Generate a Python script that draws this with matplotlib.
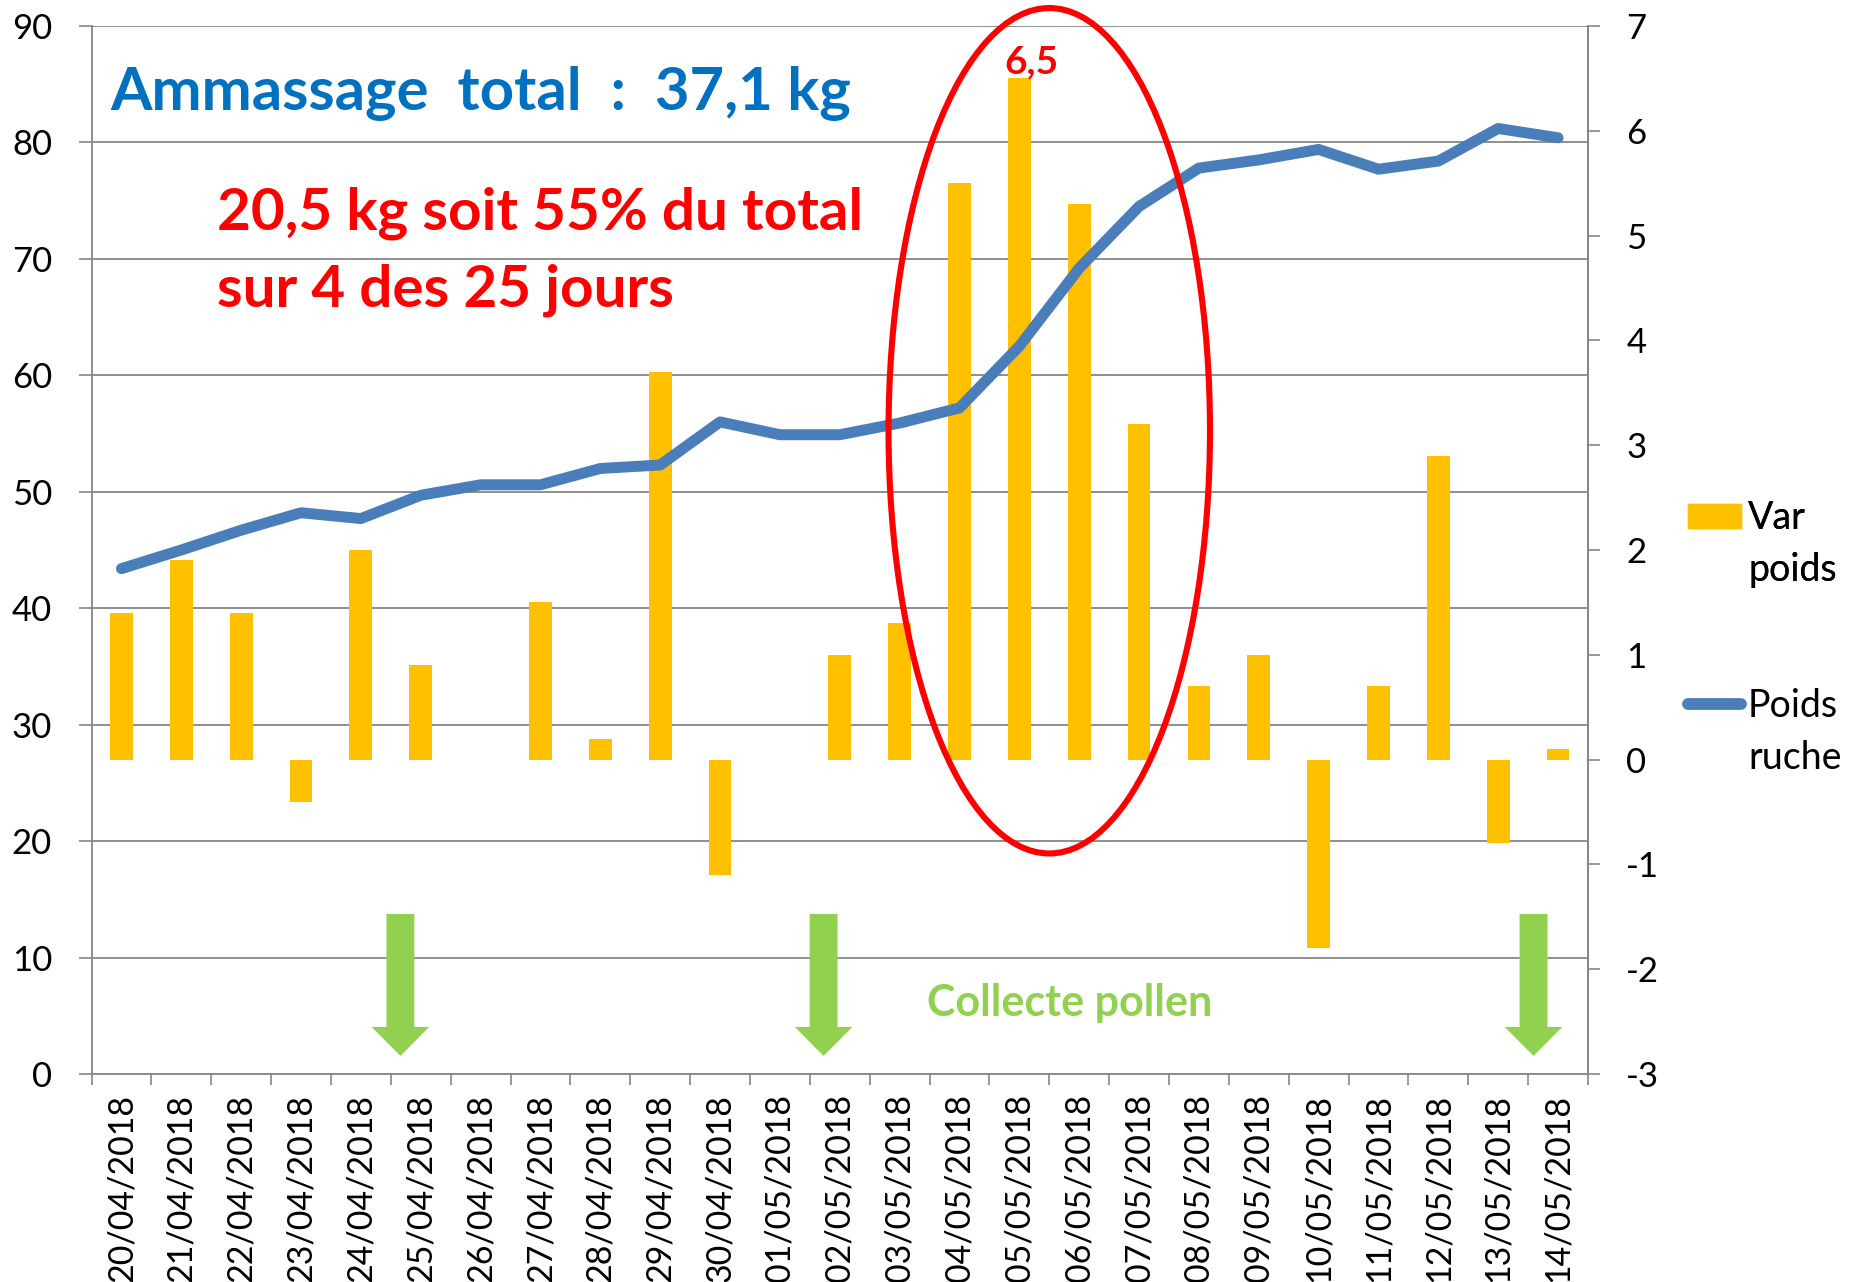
import numpy as np
import matplotlib
matplotlib.use("Agg")
import matplotlib.pyplot as plt
from matplotlib.patches import Ellipse, FancyArrow, Patch
from matplotlib.lines import Line2D

plt.rcParams['font.family'] = ['Lato', 'DejaVu Sans']
plt.rcParams['axes.unicode_minus'] = False

dates = ["20/04/2018", "21/04/2018", "22/04/2018", "23/04/2018", "24/04/2018",
         "25/04/2018", "26/04/2018", "27/04/2018", "28/04/2018", "29/04/2018",
         "30/04/2018", "01/05/2018", "02/05/2018", "03/05/2018", "04/05/2018",
         "05/05/2018", "06/05/2018", "07/05/2018", "08/05/2018", "09/05/2018",
         "10/05/2018", "11/05/2018", "12/05/2018", "13/05/2018", "14/05/2018"]
var_poids = [1.4, 1.9, 1.4, -0.4, 2.0, 0.9, 0.0, 1.5, 0.2, 3.7,
             -1.1, 0.0, 1.0, 1.3, 5.5, 6.5, 5.3, 3.2, 0.7, 1.0,
             -1.8, 0.7, 2.9, -0.8, 0.1]
poids_ruche = [43.4, 45.0, 46.7, 48.2, 47.7, 49.7, 50.6, 50.6, 52.0, 52.3,
               56.0, 54.9, 54.9, 55.9, 57.2, 62.5, 69.2, 74.5, 77.8, 78.5,
               79.4, 77.7, 78.4, 81.2, 80.4]
left_ticks = [0, 10, 20, 30, 40, 50, 60, 70, 80, 90]
right_ticks = [-3, -2, -1, 0, 1, 2, 3, 4, 5, 6, 7]

BAR = '#FFC000'
LINE = '#4A7EBB'
GRID = '#868686'
GREEN = '#92D050'
W, H = 1864, 1282

fig = plt.figure(figsize=(W / 100, H / 100), dpi=100)
ax = fig.add_axes([91.5 / W, 1 - 1074 / H, (1588 - 91.5) / W, (1074 - 26) / H])
x = np.arange(len(dates))

# base axis: left scale + grid + x labels
ax.set_xlim(-0.5, len(dates) - 0.5)
ax.set_ylim(0, 90)
ax.set_yticks(left_ticks)
ax.yaxis.grid(True, color=GRID, lw=1.3)
ax.set_axisbelow(True)
ax.tick_params(axis='y', which='major', length=9.4, width=1.2, color=GRID,
               pad=19, labelsize=25)
ax.set_xticks(np.arange(-0.5, len(dates), 1))
ax.set_xticklabels([])
ax.tick_params(axis='x', which='major', length=8.2, width=1.2, color=GRID)
ax.set_xticks(x, minor=True)
ax.set_xticklabels(dates, minor=True, rotation=90, fontsize=24.5)
ax.tick_params(axis='x', which='minor', length=0, pad=14.4)
for s in ['left', 'bottom', 'right']:
    ax.spines[s].set_color(GRID)
    ax.spines[s].set_linewidth(1.3)
ax.spines['top'].set_visible(False)

# bars on right scale
axb = ax.twinx()
axb.set_ylim(-3, 7)
axb.set_yticks(right_ticks)
axb.bar(x, var_poids, width=0.38, color=BAR, zorder=2)
axb.tick_params(axis='y', length=8.6, width=1.2, color=GRID, pad=19, labelsize=25)
for s in ['left', 'bottom', 'top']:
    axb.spines[s].set_visible(False)
axb.spines['right'].set_color(GRID)
axb.spines['right'].set_linewidth(1.3)

# line on left scale, above bars
axl = ax.twinx()
axl.set_ylim(0, 90)
axl.set_xlim(-0.5, len(dates) - 0.5)
axl.plot(x, poids_ruche, color=LINE, lw=7.9, solid_capstyle='round',
         solid_joinstyle='round')
axl.yaxis.set_visible(False)
for s in axl.spines.values():
    s.set_visible(False)

# red ellipse
axl.add_patch(Ellipse((15.5, 55.24), 5.37, 72.6, fill=False, ec='#FF0000',
                      lw=4.4, clip_on=False, zorder=5))
axl.text(15.21, 85.9, "6,5", color='#FF0000', fontsize=28, fontweight='bold',
         ha='center', va='baseline')

# green arrows
for xc in [4.66, 11.73, 23.59]:
    axl.add_patch(FancyArrow(xc, 13.75, 0, -(13.75 - 1.55), width=0.466,
                             head_width=0.96, head_length=2.49,
                             length_includes_head=True, color=GREEN, lw=0,
                             clip_on=False))

# annotation texts
fig.text(110 / W, 1 - 109.6 / H, "Ammassage  total  :  37,1 kg", color='#0070C0',
         fontsize=43, fontweight='bold', ha='left', va='baseline')
fig.text(217 / W, 1 - 229 / H, "20,5 kg soit 55% du total", color='#FF0000',
         fontsize=42, fontweight='bold', ha='left', va='baseline')
fig.text(217 / W, 1 - 306.6 / H, "sur 4 des 25 jours", color='#FF0000',
         fontsize=42, fontweight='bold', ha='left', va='baseline')
fig.text(927 / W, 1 - 1016 / H, "Collecte pollen", color=GREEN,
         fontsize=31, fontweight='bold', ha='left', va='baseline')

# legend (two blocks, handle aligned with first line)
blank = Line2D([], [], alpha=0)
leg1 = fig.legend([Patch(color=BAR), blank], ["Var", "poids"],
                  loc='upper left', bbox_to_anchor=(1688 / W, 1 - 500 / H),
                  frameon=False, fontsize=27, handlelength=1.4,
                  handleheight=0.61, handletextpad=0.2, borderpad=0,
                  borderaxespad=0, labelspacing=0.43)
leg2 = fig.legend([Line2D([], [], color=LINE, lw=8.5, solid_capstyle='round'), blank],
                  ["Poids", "ruche"],
                  loc='upper left', bbox_to_anchor=(1688 / W, 1 - 688 / H),
                  frameon=False, fontsize=27, handlelength=1.4,
                  handletextpad=0.2, borderpad=0, borderaxespad=0,
                  labelspacing=0.43)
fig.add_artist(leg1)

fig.savefig("out.png", dpi=100)
